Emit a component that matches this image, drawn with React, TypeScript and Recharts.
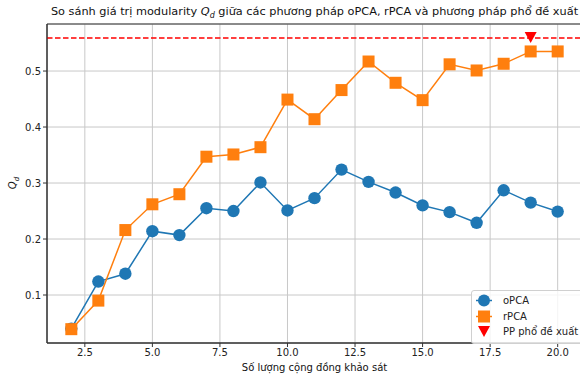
import {
  CartesianGrid,
  ComposedChart,
  Line,
  ReferenceArea,
  ReferenceLine,
  Scatter,
  XAxis,
  YAxis,
} from 'recharts';

const communities = [2, 3, 4, 5, 6, 7, 8, 9, 10, 11, 12, 13, 14, 15, 16, 17, 18, 19, 20];
const opcaValues = [0.04, 0.124, 0.138, 0.214, 0.207, 0.255, 0.25, 0.301, 0.251, 0.273, 0.324, 0.302, 0.283, 0.26, 0.248, 0.229, 0.287, 0.265, 0.249];
const rpcaValues = [0.039, 0.09, 0.216, 0.262, 0.28, 0.347, 0.351, 0.364, 0.449, 0.414, 0.466, 0.517, 0.479, 0.448, 0.512, 0.501, 0.513, 0.535, 0.535];
const proposedK = [19];
const proposedValues = [0.559];
const xTicks = [2.5, 5, 7.5, 10, 12.5, 15, 17.5, 20];
const yTicks = [0.1, 0.2, 0.3, 0.4, 0.5];
const legendNames = ['oPCA', 'rPCA', 'PP phổ đề xuất'];

const xDomain: [number, number] = [1.1, 20.9];
const yDomain: [number, number] = [0.0143, 0.584];

const colors = {
  opca: '#1f77b4',
  rpca: '#ff7f0e',
  proposed: '#ff0000',
};

const font = '"DejaVu Sans", sans-serif';

const rows = communities.map((k, i) => ({ k, opca: opcaValues[i], rpca: rpcaValues[i] }));
const proposed = proposedK.map((k, i) => ({ k, pp: proposedValues[i] }));

function Square(props: any) {
  const { cx, cy } = props;
  if (cx == null || cy == null) return null;
  return <rect x={cx - 6} y={cy - 6} width={12} height={12} fill={colors.rpca} />;
}

function Circle(props: any) {
  const { cx, cy } = props;
  if (cx == null || cy == null) return null;
  return <circle cx={cx} cy={cy} r={6.2} fill={colors.opca} />;
}

function Triangle(props: any) {
  const { cx, cy } = props;
  if (cx == null || cy == null) return null;
  return <path d={`M${cx - 6},${cy - 6} L${cx + 6},${cy - 6} L${cx},${cy + 5} Z`} fill={colors.proposed} />;
}

function LegendBox() {
  const kinds = ['circle', 'square', 'triangle'];
  return (
    <div
      style={{
        position: 'absolute',
        left: 471,
        top: 290,
        width: 112,
        background: 'rgba(255,255,255,0.8)',
        border: '1px solid #d0d0d0',
        borderRadius: 3,
        padding: '2px 0 3px 0',
        fontFamily: font,
        fontSize: 10,
        color: '#222',
      }}
    >
      {legendNames.map((name, i) => (
        <div key={name} style={{ display: 'flex', alignItems: 'center', height: 15.5 }}>
          <svg width={28} height={15} style={{ marginLeft: 2 }}>
            {kinds[i] !== 'triangle' && (
              <line x1={2} y1={7.5} x2={18} y2={7.5} stroke={i === 0 ? colors.opca : colors.rpca} strokeWidth={1.5} />
            )}
            {kinds[i] === 'circle' && <circle cx={10} cy={7.5} r={6} fill={colors.opca} />}
            {kinds[i] === 'square' && <rect x={4} y={1.5} width={12} height={12} fill={colors.rpca} />}
            {kinds[i] === 'triangle' && <path d="M4,2 L16,2 L10,13 Z" fill={colors.proposed} />}
          </svg>
          <span style={{ marginLeft: 1 }}>{name}</span>
        </div>
      ))}
    </div>
  );
}

export default function App() {
  return (
    <div style={{ position: 'relative', width: 580, height: 378, overflow: 'hidden', background: '#fff' }}>
      <style>{'body{margin:0}'}</style>
      <div
        style={{
          position: 'absolute',
          left: 314.5,
          top: 5,
          transform: 'translateX(-50%)',
          whiteSpace: 'nowrap',
          fontFamily: font,
          fontSize: 11.3,
          color: '#111',
        }}
      >
        So sánh giá trị modularity <i>Q<sub style={{ fontSize: 8 }}>d</sub></i> giữa các phương pháp oPCA, rPCA và phương pháp phổ đề xuất
      </div>
      <div
        style={{
          position: 'absolute',
          left: 14,
          top: 183,
          transform: 'translate(-50%, -50%) rotate(-90deg)',
          fontFamily: font,
          fontSize: 10,
          color: '#111',
        }}
      >
        <i>Q<sub style={{ fontSize: 7 }}>d</sub></i>
      </div>
      <div
        style={{
          position: 'absolute',
          left: 314.5,
          top: 362,
          transform: 'translateX(-50%)',
          whiteSpace: 'nowrap',
          fontFamily: font,
          fontSize: 10,
          color: '#111',
        }}
      >
        Số lượng cộng đồng khảo sát
      </div>
      <ComposedChart width={600} height={378} data={rows} margin={{ top: 24, right: 18, bottom: 0, left: 0 }}>
        <CartesianGrid stroke="#c8c8c8" strokeWidth={1} />
        <XAxis
          type="number"
          dataKey="k"
          domain={xDomain}
          ticks={xTicks}
          allowDataOverflow
          tickFormatter={(v: number) => v.toFixed(1)}
          height={35}
          tickSize={4}
          tickLine={{ stroke: '#333' }}
          axisLine={{ stroke: '#333' }}
          tick={{ fontFamily: font, fontSize: 10, fill: '#222' }}
        />
        <YAxis
          type="number"
          domain={yDomain}
          ticks={yTicks}
          allowDataOverflow
          tickFormatter={(v: number) => v.toFixed(1)}
          width={47}
          tickSize={4}
          tickLine={{ stroke: '#333' }}
          axisLine={{ stroke: '#333' }}
          tick={{ fontFamily: font, fontSize: 10, fill: '#222' }}
        />
        <ReferenceArea x1={xDomain[0]} x2={xDomain[1]} y1={yDomain[0]} y2={yDomain[1]} fill="none" stroke="#333" strokeWidth={1} />
        <ReferenceLine y={proposedValues[0]} stroke={colors.proposed} strokeWidth={1.5} strokeDasharray="5.5 2.5" />
        <Line dataKey="opca" stroke={colors.opca} strokeWidth={1.5} dot={<Circle />} activeDot={false} isAnimationActive={false} />
        <Line dataKey="rpca" stroke={colors.rpca} strokeWidth={1.5} dot={<Square />} activeDot={false} isAnimationActive={false} />
        <Scatter data={proposed} dataKey="pp" shape={<Triangle />} isAnimationActive={false} />
      </ComposedChart>
      <LegendBox />
    </div>
  );
}
